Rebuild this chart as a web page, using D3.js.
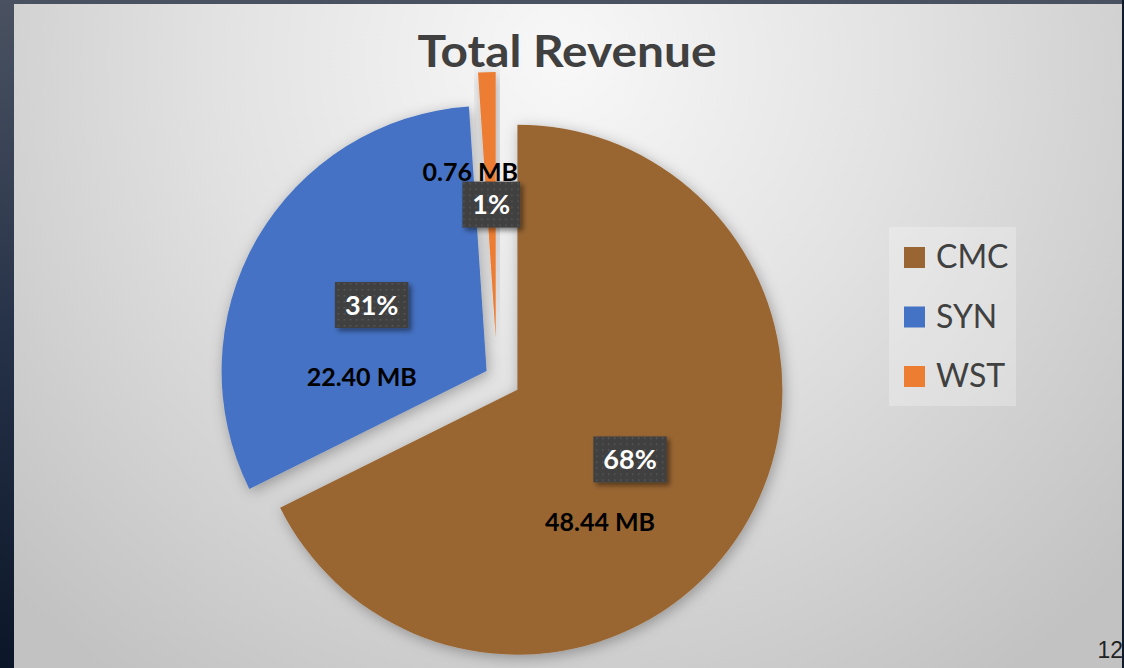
<!DOCTYPE html>
<html>
<head>
<meta charset="utf-8">
<script src="https://cdn.jsdelivr.net/npm/d3@7"></script>
<style>
  html, body { margin: 0; padding: 0; background: #1b2535; }
  svg { display: block; }
</style>
</head>
<body>
<svg id="chart"></svg>
<script>
// chart data
const categories = ["CMC", "SYN", "WST"];
const revenue = [48.44, 22.40, 0.76];
const unitLabel = "MB";
const title = "Total Revenue";
const slideNumber = "12";

const colors = ["#996633", "#4472C4", "#ED7D31"];

const w = 1124;
const h = 668;
const cx = 497;
const cy = 377;
const radius = 265;
const explode = [24, 12, 40];          // Excel point explosion, px
const valueShift = [[-30, 63], [-10, 72], [-21, -33]]; // dragged value labels
const font = "Lato, 'Open Sans', sans-serif";

const svg = d3.select("#chart").attr("width", w).attr("height", h);
const defs = svg.append("defs");

// slide background + chart area gradient
const bgGrad = defs.append("linearGradient").attr("id", "bg")
  .attr("x1", 0).attr("y1", 0).attr("x2", 0).attr("y2", 1);
bgGrad.append("stop").attr("offset", 0).attr("stop-color", "#4a5261");
bgGrad.append("stop").attr("offset", 0.5).attr("stop-color", "#263248");
bgGrad.append("stop").attr("offset", 1).attr("stop-color", "#0b1628");

const panelGrad = defs.append("radialGradient").attr("id", "panel")
  .attr("gradientUnits", "userSpaceOnUse")
  .attr("cx", 560).attr("cy", 60).attr("r", 760);
panelGrad.append("stop").attr("offset", 0).attr("stop-color", "#f8f8f8");
panelGrad.append("stop").attr("offset", 0.45).attr("stop-color", "#e2e2e2");
panelGrad.append("stop").attr("offset", 1).attr("stop-color", "#c2c2c2");

const shadow = defs.append("filter").attr("id", "shadow")
  .attr("x", "-20%").attr("y", "-20%").attr("width", "140%").attr("height", "140%");
shadow.append("feDropShadow").attr("dx", 2).attr("dy", 3)
  .attr("stdDeviation", 7).attr("flood-color", "#000").attr("flood-opacity", 0.3);

const boxShadow = defs.append("filter").attr("id", "boxShadow")
  .attr("x", "-30%").attr("y", "-30%").attr("width", "160%").attr("height", "160%");
boxShadow.append("feDropShadow").attr("dx", 3).attr("dy", 3)
  .attr("stdDeviation", 2.5).attr("flood-color", "#000").attr("flood-opacity", 0.45);

const dots = defs.append("pattern").attr("id", "dots")
  .attr("patternUnits", "userSpaceOnUse").attr("width", 6).attr("height", 6);
dots.append("rect").attr("width", 6).attr("height", 6).attr("fill", "#404040");
dots.append("rect").attr("x", 2).attr("y", 2).attr("width", 1.4).attr("height", 1.4)
  .attr("fill", "#5c5c5c");

svg.append("rect").attr("width", w).attr("height", h).attr("fill", "url(#bg)");
svg.append("rect")
  .attr("x", 14).attr("y", 4).attr("width", 1108).attr("height", 664)
  .attr("fill", "url(#panel)");

// pie
const data = categories.map((c, i) => ({ name: c, value: revenue[i], i: i }));
const total = d3.sum(revenue);
const pct = d3.format(".0%");

const pie = d3.pie().sort(null).value(d => d.value);
const arcs = pie(data);

const arc = d3.arc().innerRadius(0).outerRadius(radius);
const labelArc = d3.arc().innerRadius(radius * 0.5).outerRadius(radius * 0.5);

const offset = d => {
  const a = (d.startAngle + d.endAngle) / 2;
  const e = explode[d.data.i];
  return [Math.sin(a) * e, -Math.cos(a) * e];
};

const g = svg.append("g").attr("transform", `translate(${cx},${cy})`);

g.selectAll("path.slice")
  .data(arcs)
  .join("path")
  .attr("class", "slice")
  .attr("d", arc)
  .attr("fill", d => colors[d.data.i])
  .attr("filter", "url(#shadow)")
  .attr("transform", d => `translate(${offset(d)})`);

// percentage labels in dark boxes
const pLabels = g.selectAll("g.pct")
  .data(arcs)
  .join("g")
  .attr("class", "pct")
  .attr("transform", d => {
    const c = labelArc.centroid(d);
    const o = offset(d);
    return `translate(${c[0] + o[0]},${c[1] + o[1]})`;
  });

pLabels.append("rect").attr("class", "box");
pLabels.append("text")
  .attr("text-anchor", "middle")
  .attr("dy", "0.36em")
  .attr("fill", "#fff")
  .style("font-family", font)
  .style("font-weight", 700)
  .style("font-size", "27px")
  .text(d => pct(d.data.value / total));

pLabels.each(function () {
  const t = d3.select(this).select("text").node().getBBox();
  d3.select(this).select("rect")
    .attr("x", -t.width / 2 - 10).attr("y", -23)
    .attr("width", t.width + 20).attr("height", 46)
    .attr("fill", "url(#dots)")
    .attr("filter", "url(#boxShadow)");
});

// value labels
g.selectAll("text.val")
  .data(arcs)
  .join("text")
  .attr("class", "val")
  .attr("text-anchor", "middle")
  .attr("dy", "0.36em")
  .attr("x", d => labelArc.centroid(d)[0] + offset(d)[0] + valueShift[d.data.i][0])
  .attr("y", d => labelArc.centroid(d)[1] + offset(d)[1] + valueShift[d.data.i][1])
  .attr("fill", "#000")
  .style("font-family", font)
  .style("font-weight", 700)
  .style("font-size", "25px")
  .text(d => `${d.data.value.toFixed(2)} ${unitLabel}`);

// title
svg.append("text")
  .attr("x", 567).attr("y", 67)
  .attr("text-anchor", "middle")
  .attr("fill", "#404040")
  .attr("textLength", 299)
  .attr("lengthAdjust", "spacingAndGlyphs")
  .style("font-family", font)
  .style("font-weight", 700)
  .style("font-size", "44px")
  .text(title);

// legend
const legend = svg.append("g").attr("transform", "translate(889,227)");
legend.append("rect")
  .attr("width", 127).attr("height", 179)
  .attr("fill", "#fff").attr("fill-opacity", 0.25);

const item = legend.selectAll("g.item")
  .data(categories)
  .join("g")
  .attr("class", "item")
  .attr("transform", (d, i) => `translate(15,${20 + i * 59.5})`);

item.append("rect")
  .attr("width", 21).attr("height", 21)
  .attr("fill", (d, i) => colors[i]);

item.append("text")
  .attr("x", 32).attr("y", 21)
  .attr("fill", "#404040")
  .style("font-family", font)
  .style("font-size", "32px")
  .text(d => d);

// slide number
svg.append("text")
  .attr("x", 1123).attr("y", 658)
  .attr("text-anchor", "end")
  .attr("fill", "#222")
  .style("font-family", "'Liberation Sans', sans-serif")
  .style("font-size", "23px")
  .text(slideNumber);

svg.append("rect").attr("x", 1122).attr("y", 0).attr("width", 2).attr("height", h)
  .attr("fill", "#111a28");
</script>
</body>
</html>
